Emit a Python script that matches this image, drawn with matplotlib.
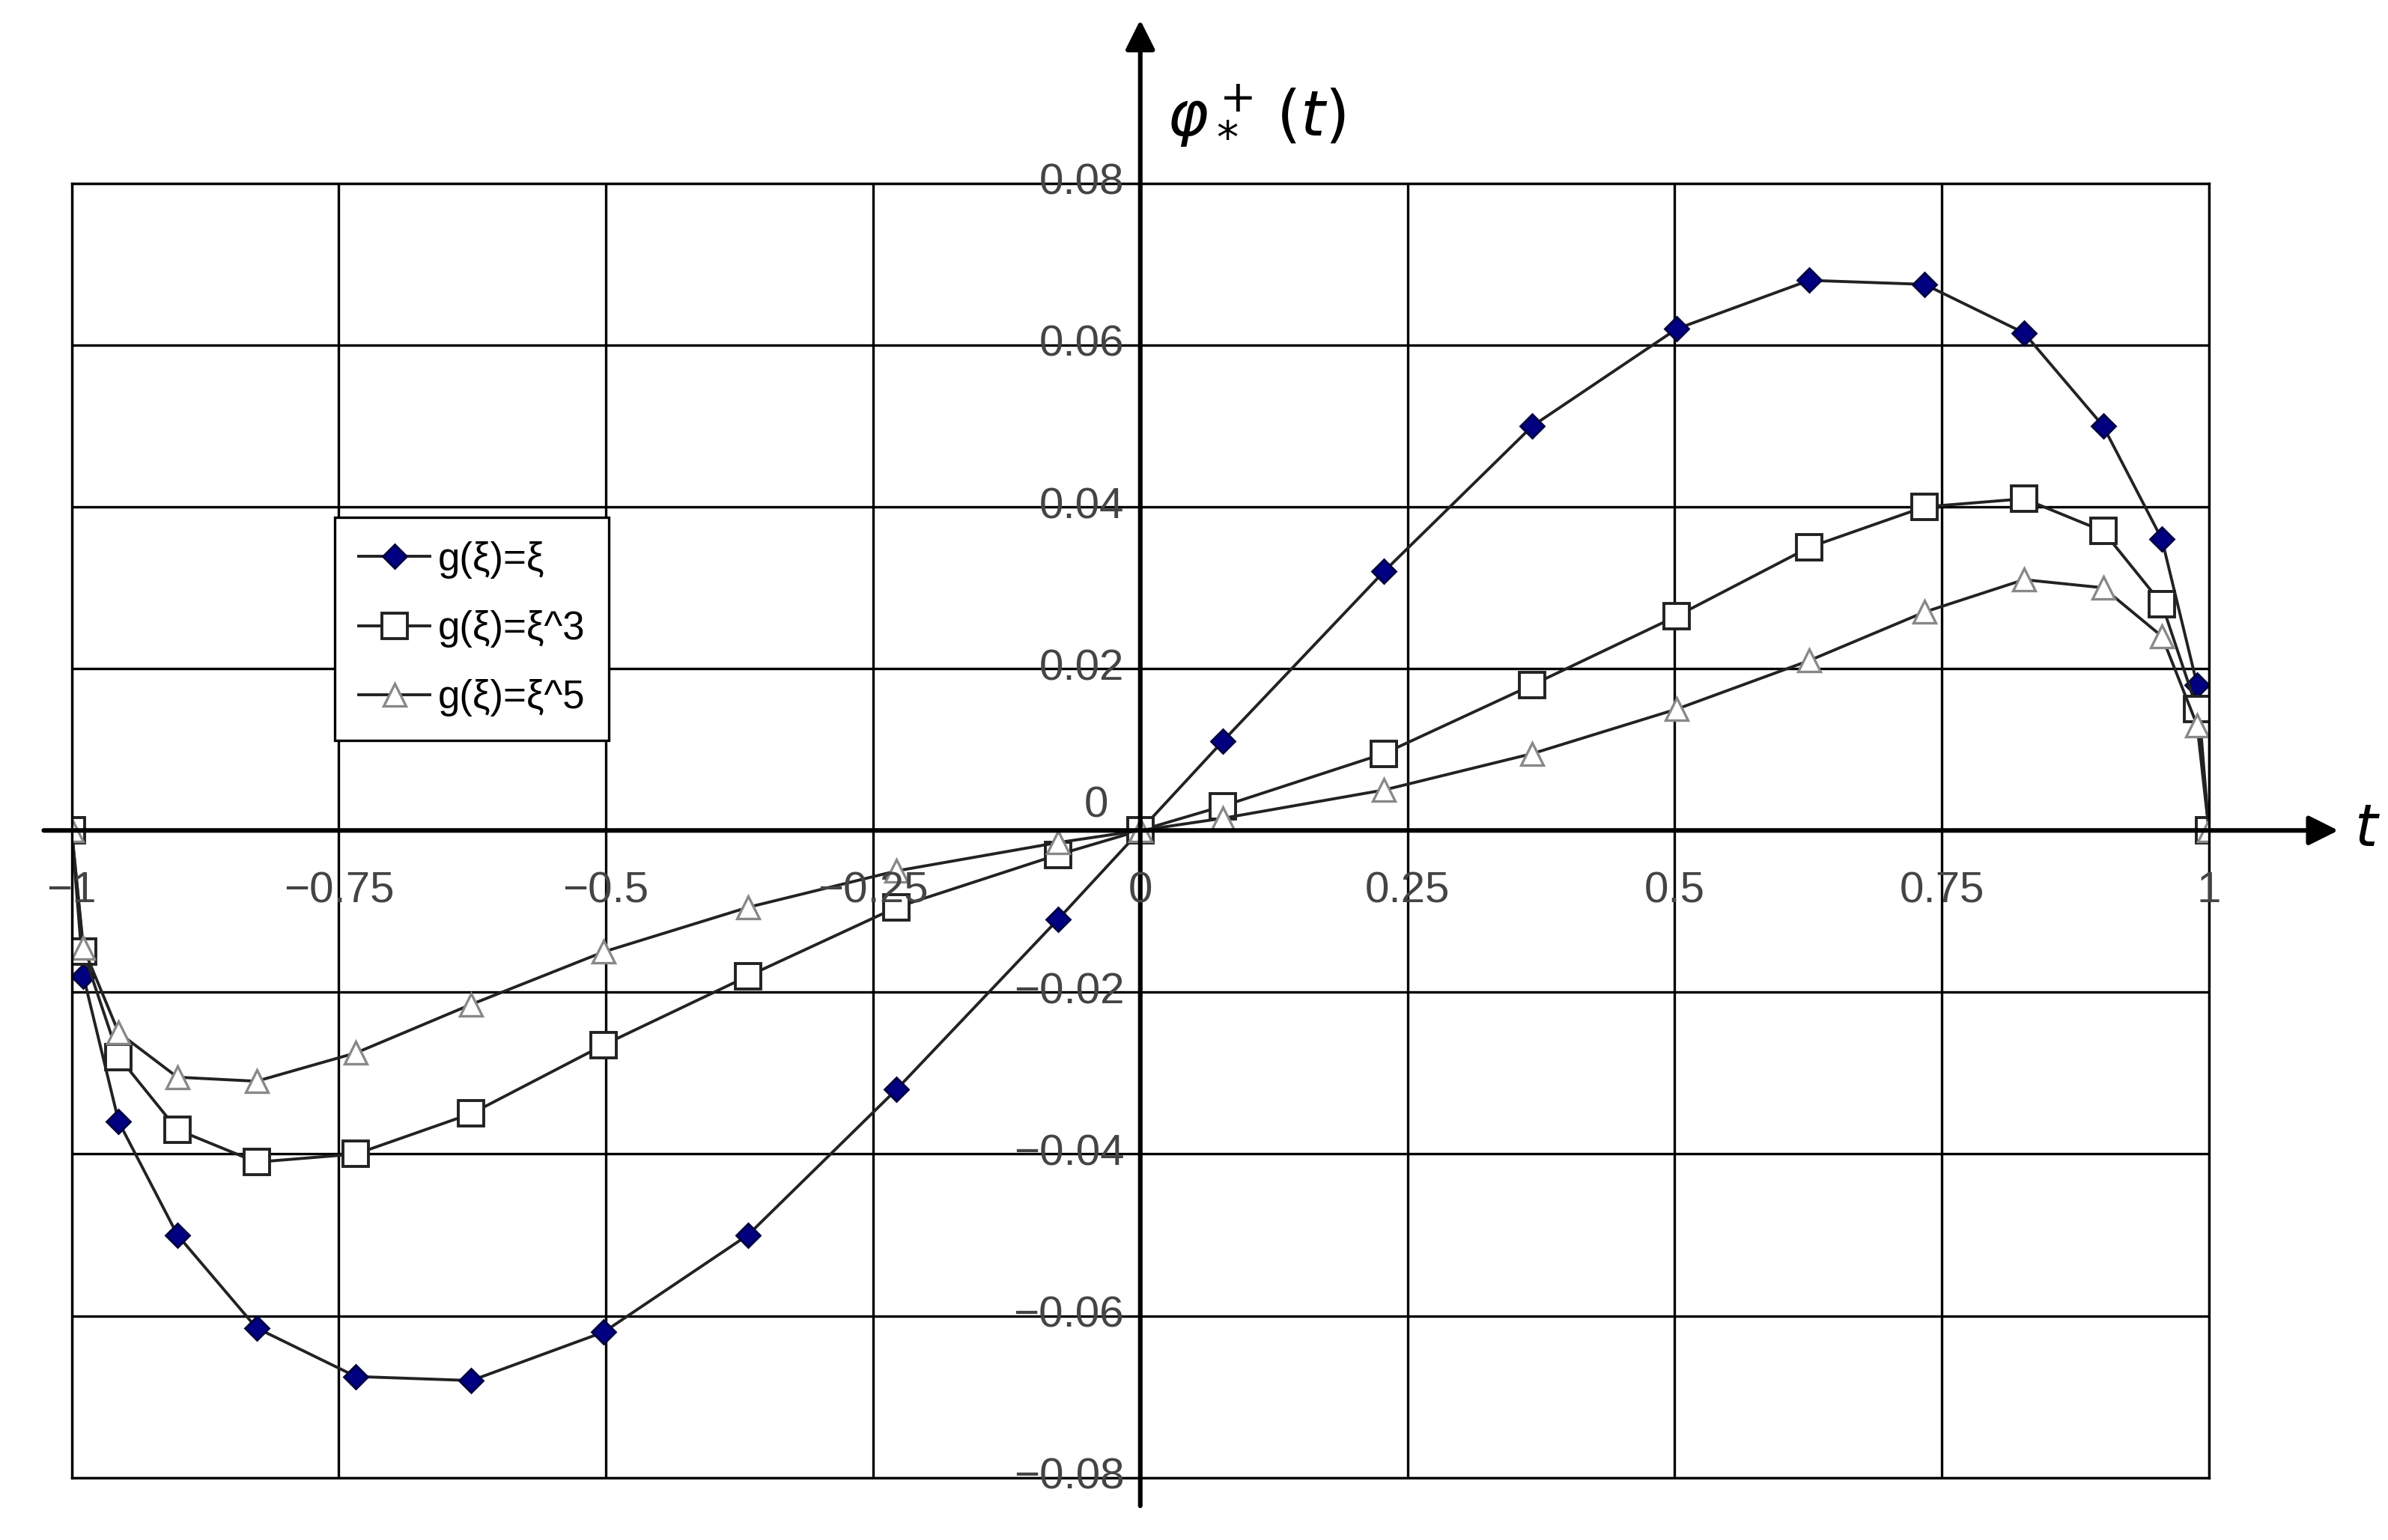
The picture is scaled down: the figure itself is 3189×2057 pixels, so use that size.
import matplotlib
matplotlib.use("Agg")
import matplotlib.pyplot as plt

t = [-1, -0.989, -0.956, -0.901, -0.827, -0.734, -0.626, -0.502, -0.367, -0.228, -0.077, 0,
     0.077, 0.228, 0.367, 0.502, 0.626, 0.734, 0.827, 0.901, 0.956, 0.989, 1]
g1 = [0, -0.018, -0.036, -0.050, -0.0615, -0.0675, -0.068, -0.062, -0.050, -0.032, -0.011, 0,
      0.011, 0.032, 0.050, 0.062, 0.068, 0.0675, 0.0615, 0.050, 0.036, 0.018, 0]
g3 = [0, -0.015, -0.028, -0.037, -0.041, -0.040, -0.035, -0.0265, -0.018, -0.0095, -0.003, 0,
      0.003, 0.0095, 0.018, 0.0265, 0.035, 0.040, 0.041, 0.037, 0.028, 0.015, 0]
g5 = [0, -0.0145, -0.025, -0.0305, -0.031, -0.0275, -0.0215, -0.015, -0.0095, -0.005, -0.0015, 0,
      0.0015, 0.005, 0.0095, 0.015, 0.021, 0.027, 0.031, 0.030, 0.024, 0.013, 0]
xticks = [-1, -0.75, -0.5, -0.25, 0, 0.25, 0.5, 0.75, 1]
xlabels = ["\u22121", "\u22120.75", "\u22120.5", "\u22120.25", "0", "0.25", "0.5", "0.75", "1"]
yticks = [-0.08, -0.06, -0.04, -0.02, 0, 0.02, 0.04, 0.06, 0.08]
ylabels = ["\u22120.08", "\u22120.06", "\u22120.04", "\u22120.02", "0", "0.02", "0.04", "0.06", "0.08"]

plt.rcParams['font.family'] = ['Liberation Sans', 'DejaVu Sans']
fig = plt.figure(figsize=(15.945, 10.285), dpi=200)
ax = fig.add_axes([0.030, 0.0405, 0.895, 0.8405])
ax.set_xlim(-1, 1)
ax.set_ylim(-0.08, 0.08)
ax.set_xticks(xticks)
ax.set_yticks(yticks)
ax.grid(True, color='black', lw=1.2)
ax.tick_params(length=0, labelbottom=False, labelleft=False)
for s in ax.spines.values():
    s.set_linewidth(1.2)

ax.plot(t, g1, '-', color='#222222', lw=1.4, marker='D', ms=8, mfc='#000080', mec='#000040', label='g(\u03be)=\u03be')
ax.plot(t, g3, '-', color='#222222', lw=1.4, marker='s', ms=12, mfc='white', mec='#222222', mew=1.4, label='g(\u03be)=\u03be^3')
ax.plot(t, g5, '-', color='#222222', lw=1.4, marker='^', ms=11, mfc='white', mec='#888888', mew=1.2, label='g(\u03be)=\u03be^5')

# axes arrows
ax.annotate('', xy=(1.125, 0), xytext=(-1.03, 0), xycoords='data',
            arrowprops=dict(arrowstyle='-|>', color='black', lw=2.2, mutation_scale=30), annotation_clip=False)
ax.annotate('', xy=(0, 0.1007), xytext=(0, -0.084), xycoords='data',
            arrowprops=dict(arrowstyle='-|>', color='black', lw=2.2, mutation_scale=30), annotation_clip=False)

for x, l in zip(xticks, xlabels):
    ax.text(x, -0.0075, l, ha='center', va='center', fontsize=21, color='#444444')
for y, l in zip(yticks, ylabels):
    if y == 0:
        ax.text(-0.03, 0.0005, l, ha='right', va='bottom', fontsize=21, color='#444444')
    else:
        ax.text(-0.015, y, l, ha='right', va='center', fontsize=21, color='#444444')

ax.text(0.025, 0.0885, r'$\varphi_*^+\,(t)$', fontsize=30, ha='left', va='center')
ax.text(1.148, 0, r'$t$', fontsize=28, ha='center', va='center')

leg = ax.legend(loc='upper left', bbox_to_anchor=(0.114, 0.757), fontsize=19, frameon=True,
                fancybox=False, edgecolor='black', framealpha=1, borderpad=0.6, labelspacing=0.8,
                handlelength=1.8, handletextpad=0.2)
leg.get_frame().set_linewidth(1.2)

fig.savefig('out.png', dpi=200, facecolor='white')
